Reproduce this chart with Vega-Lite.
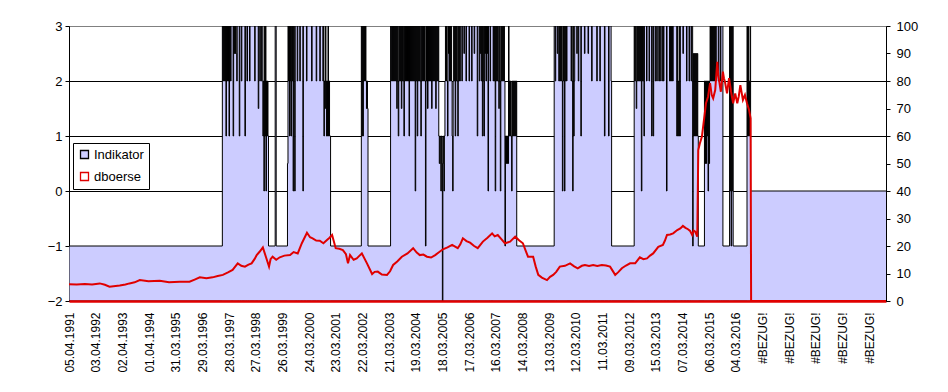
{
  "$schema": "https://vega.github.io/schema/vega-lite/v6.json",
  "width": 817,
  "height": 275,
  "autosize": {"type": "none"},
  "padding": {"left": 69, "top": 26, "right": 62, "bottom": 91},
  "background": "white",
  "config": {
    "view": {"stroke": "#808080", "strokeWidth": 1},
    "axis": {"labelFont": "Liberation Sans", "labelColor": "black", "domainColor": "black", "tickColor": "black"},
    "axisX": {"labelOverlap": false, "labelSeparation": 0},
    "legend": {"symbolType": "square"}
  },
  "datasets": {
    "ind": [
      {"i":0,"v":-1},
      {"i":299,"v":3},{"i":300,"v":2},{"i":301,"v":3},{"i":302,"v":2},{"i":303,"v":3},{"i":304,"v":2},{"i":305,"v":3},{"i":306,"v":1},{"i":307,"v":3},{"i":308,"v":2},{"i":309,"v":3},{"i":310,"v":2},{"i":311,"v":3},{"i":312,"v":1},{"i":313,"v":3},{"i":315,"v":2},{"i":316,"v":3},{"i":320,"v":1},{"i":321,"v":3},{"i":322,"v":2.5},{"i":323,"v":3},{"i":324,"v":2.5},{"i":325,"v":3},{"i":326,"v":2.5},{"i":327,"v":2},{"i":328,"v":3},{"i":332,"v":1},{"i":333,"v":3},{"i":336,"v":2},{"i":337,"v":3},{"i":343,"v":1},{"i":344,"v":3},{"i":347,"v":2},{"i":348,"v":3},{"i":352,"v":2},{"i":353,"v":3},{"i":362,"v":2},{"i":363,"v":3},{"i":369,"v":1.5},{"i":370,"v":3},{"i":372,"v":2},{"i":373,"v":3},{"i":375,"v":2},{"i":376,"v":3},{"i":378,"v":1},{"i":379,"v":2},{"i":380,"v":0},{"i":381,"v":3},{"i":382,"v":1},{"i":383,"v":3},{"i":384,"v":0},{"i":385,"v":2},{"i":386,"v":1},{"i":387,"v":2},{"i":388,"v":1},{"i":389,"v":-1},
      {"i":402,"v":3},{"i":404,"v":-1},
      {"i":426,"v":0.5},{"i":427,"v":3},{"i":428,"v":2},{"i":429,"v":3},{"i":430,"v":1},{"i":431,"v":3},{"i":432,"v":2},{"i":433,"v":1},{"i":434,"v":3},{"i":435,"v":2},{"i":436,"v":3},{"i":437,"v":0},{"i":438,"v":3},{"i":440,"v":0},{"i":441,"v":3},{"i":445,"v":2},{"i":446,"v":3},{"i":450,"v":2},{"i":451,"v":3},{"i":456,"v":0},{"i":457,"v":3},{"i":463,"v":2},{"i":464,"v":3},{"i":473,"v":2},{"i":474,"v":3},{"i":482,"v":2},{"i":483,"v":3},{"i":489,"v":2},{"i":490,"v":3},{"i":495,"v":2},{"i":496,"v":3},{"i":497,"v":1},{"i":498,"v":2},{"i":499,"v":1.5},{"i":500,"v":3},{"i":501,"v":2},{"i":502,"v":1},{"i":503,"v":2},{"i":504,"v":1},{"i":505,"v":3},{"i":506,"v":1},{"i":507,"v":2},{"i":508,"v":1},{"i":510,"v":-1},
      {"i":570,"v":3},{"i":571,"v":1},{"i":572,"v":3},{"i":573,"v":1},{"i":574,"v":3},{"i":575,"v":2},{"i":576,"v":3},{"i":577,"v":2},{"i":578,"v":3},{"i":579,"v":2},{"i":580,"v":1.5},{"i":581,"v":2},{"i":582,"v":1.5},{"i":583,"v":-1},
      {"i":627,"v":3},{"i":629,"v":2},{"i":630,"v":3},{"i":631,"v":2},{"i":632,"v":3},{"i":633,"v":2},{"i":634,"v":3},{"i":635,"v":2},{"i":636,"v":3},{"i":637,"v":2},{"i":638,"v":3},{"i":639,"v":1.5},{"i":640,"v":3},{"i":641,"v":2},{"i":642,"v":1},{"i":643,"v":3},{"i":644,"v":2},{"i":645,"v":3},{"i":646,"v":2},{"i":647,"v":3},{"i":648,"v":1.5},{"i":649,"v":3},{"i":650,"v":2},{"i":651,"v":3},{"i":652,"v":2},{"i":653,"v":1},{"i":654,"v":3},{"i":655,"v":2},{"i":656,"v":3},{"i":657,"v":2},{"i":658,"v":3},{"i":659,"v":2},{"i":660,"v":3},{"i":661,"v":2},{"i":662,"v":3},{"i":663,"v":1},{"i":664,"v":3},{"i":665,"v":2},{"i":666,"v":3},{"i":667,"v":2},{"i":668,"v":3},{"i":669,"v":2},{"i":670,"v":3},{"i":671,"v":2},{"i":672,"v":3},{"i":673,"v":2},{"i":674,"v":3},{"i":675,"v":0},{"i":676,"v":3},{"i":677,"v":2},{"i":678,"v":3},{"i":679,"v":1},{"i":680,"v":3},{"i":681,"v":2},{"i":682,"v":3},{"i":683,"v":2},{"i":684,"v":3},{"i":685,"v":2},{"i":686,"v":1},{"i":687,"v":3},{"i":688,"v":2},{"i":689,"v":3},{"i":690,"v":2},{"i":691,"v":3},{"i":692,"v":2},{"i":693,"v":3},{"i":694,"v":2},{"i":695,"v":-1},{"i":696,"v":3},{"i":697,"v":2},{"i":698,"v":3},{"i":699,"v":1.5},{"i":700,"v":3},{"i":701,"v":2},{"i":702,"v":3},{"i":703,"v":2},{"i":704,"v":3},{"i":705,"v":2},{"i":706,"v":3},{"i":707,"v":1.5},{"i":708,"v":3},{"i":709,"v":2},{"i":710,"v":3},{"i":711,"v":2},{"i":712,"v":3},{"i":713,"v":2},{"i":714,"v":3},{"i":715,"v":1.5},{"i":716,"v":3},{"i":717,"v":2},{"i":718,"v":3},{"i":719,"v":2},{"i":720,"v":3},{"i":721,"v":1},{"i":722,"v":0.5},{"i":723,"v":1},{"i":724,"v":0.5},{"i":725,"v":0},{"i":726,"v":1},{"i":727,"v":0.5},{"i":728,"v":-2},{"i":729,"v":1},{"i":730,"v":0.5},{"i":731,"v":0},{"i":732,"v":1},{"i":733,"v":2},{"i":734,"v":3},{"i":735,"v":2},{"i":736,"v":3},{"i":737,"v":2},{"i":738,"v":1},{"i":739,"v":3},{"i":740,"v":2.5},{"i":741,"v":3},{"i":742,"v":2},{"i":743,"v":3},{"i":744,"v":2},{"i":745,"v":3},{"i":746,"v":2},{"i":747,"v":1},{"i":748,"v":0},{"i":749,"v":2},{"i":750,"v":3},{"i":751,"v":2},{"i":752,"v":3},{"i":753,"v":1},{"i":754,"v":3},{"i":755,"v":2},{"i":756,"v":3},{"i":757,"v":2},{"i":758,"v":1},{"i":759,"v":3},{"i":760,"v":2},{"i":761,"v":3},{"i":762,"v":2},{"i":763,"v":3},{"i":766,"v":2},{"i":767,"v":3},{"i":770,"v":2.5},{"i":771,"v":3},{"i":774,"v":2},{"i":775,"v":3},{"i":780,"v":2},{"i":781,"v":3},{"i":785,"v":2},{"i":786,"v":3},{"i":790,"v":2.5},{"i":791,"v":3},{"i":796,"v":1},{"i":797,"v":3},{"i":800,"v":2},{"i":801,"v":3},{"i":802,"v":2.5},{"i":803,"v":3},{"i":804,"v":2},{"i":805,"v":3},{"i":806,"v":1},{"i":807,"v":3},{"i":808,"v":2},{"i":809,"v":1},{"i":810,"v":3},{"i":811,"v":2.5},{"i":812,"v":3},{"i":813,"v":2},{"i":814,"v":3},{"i":815,"v":2.5},{"i":816,"v":3},{"i":817,"v":0},{"i":818,"v":3},{"i":821,"v":2},{"i":822,"v":3},{"i":827,"v":2},{"i":828,"v":3},{"i":829,"v":2},{"i":830,"v":3},{"i":831,"v":0},{"i":832,"v":3},{"i":833,"v":2},{"i":834,"v":3},{"i":835,"v":2},{"i":836,"v":3},{"i":837,"v":2},{"i":838,"v":1.5},{"i":839,"v":3},{"i":840,"v":2},{"i":841,"v":0},{"i":842,"v":3},{"i":843,"v":2},{"i":844,"v":3},{"i":845,"v":2},{"i":846,"v":3},{"i":847,"v":2},{"i":848,"v":3},{"i":849,"v":2},{"i":850,"v":-1},{"i":851,"v":1},{"i":852,"v":0.5},{"i":853,"v":1},{"i":854,"v":0.5},{"i":855,"v":1},{"i":856,"v":0.5},{"i":857,"v":3},{"i":858,"v":1},{"i":859,"v":2},{"i":860,"v":1},{"i":861,"v":2},{"i":862,"v":1},{"i":863,"v":0},{"i":864,"v":2},{"i":865,"v":1},{"i":866,"v":2},{"i":867,"v":1},{"i":868,"v":2},{"i":869,"v":1},{"i":870,"v":2},{"i":871,"v":1},{"i":872,"v":2},{"i":873,"v":-1},
      {"i":946,"v":3},{"i":948,"v":2},{"i":949,"v":3},{"i":952,"v":2.5},{"i":953,"v":3},{"i":955,"v":2},{"i":956,"v":3},{"i":957,"v":2},{"i":958,"v":3},{"i":959,"v":2},{"i":960,"v":3},{"i":961,"v":2},{"i":962,"v":0},{"i":963,"v":3},{"i":964,"v":2},{"i":965,"v":3},{"i":966,"v":0},{"i":967,"v":2},{"i":968,"v":3},{"i":970,"v":2},{"i":971,"v":3},{"i":979,"v":2},{"i":980,"v":3},{"i":981,"v":2},{"i":982,"v":0},{"i":983,"v":3},{"i":984,"v":1},{"i":985,"v":2},{"i":986,"v":3},{"i":990,"v":2.5},{"i":991,"v":3},{"i":993,"v":2},{"i":994,"v":3},{"i":998,"v":1},{"i":999,"v":3},{"i":1005,"v":2.5},{"i":1006,"v":3},{"i":1012,"v":2.5},{"i":1013,"v":3},{"i":1019,"v":2},{"i":1020,"v":3},{"i":1029,"v":2},{"i":1030,"v":3},{"i":1035,"v":2},{"i":1036,"v":3},{"i":1044,"v":1},{"i":1045,"v":3},{"i":1052,"v":1},{"i":1053,"v":3},{"i":1057,"v":2},{"i":1058,"v":-1},
      {"i":1102,"v":3},{"i":1103,"v":2},{"i":1104,"v":3},{"i":1105,"v":2},{"i":1106,"v":1.5},{"i":1107,"v":3},{"i":1108,"v":2},{"i":1109,"v":3},{"i":1110,"v":2},{"i":1111,"v":3},{"i":1112,"v":2},{"i":1113,"v":3},{"i":1114,"v":2},{"i":1115,"v":3},{"i":1116,"v":0},{"i":1117,"v":3},{"i":1118,"v":2},{"i":1119,"v":3},{"i":1120,"v":2},{"i":1121,"v":1},{"i":1122,"v":3},{"i":1126,"v":2},{"i":1127,"v":3},{"i":1131,"v":2},{"i":1132,"v":3},{"i":1136,"v":1},{"i":1137,"v":3},{"i":1139,"v":1},{"i":1140,"v":3},{"i":1143,"v":2},{"i":1144,"v":3},{"i":1146,"v":2},{"i":1147,"v":3},{"i":1150,"v":2},{"i":1151,"v":3},{"i":1152,"v":2},{"i":1153,"v":3},{"i":1156,"v":2},{"i":1157,"v":3},{"i":1159,"v":2},{"i":1160,"v":3},{"i":1165,"v":0},{"i":1166,"v":3},{"i":1171,"v":2},{"i":1172,"v":3},{"i":1173,"v":2},{"i":1174,"v":3},{"i":1175,"v":2},{"i":1176,"v":3},{"i":1177,"v":2},{"i":1178,"v":3},{"i":1185,"v":1},{"i":1186,"v":3},{"i":1187,"v":1},{"i":1188,"v":2},{"i":1189,"v":1},{"i":1190,"v":3},{"i":1191,"v":1},{"i":1192,"v":3},{"i":1197,"v":2.5},{"i":1198,"v":3},{"i":1204,"v":2},{"i":1205,"v":3},{"i":1209,"v":2},{"i":1210,"v":3},{"i":1213,"v":2},{"i":1214,"v":3},{"i":1216,"v":-1},{"i":1217,"v":2.5},{"i":1218,"v":1},{"i":1219,"v":2.5},{"i":1220,"v":1},{"i":1221,"v":2.5},{"i":1222,"v":1},{"i":1223,"v":2.5},{"i":1224,"v":1},{"i":1225,"v":2.5},{"i":1226,"v":1},{"i":1227,"v":-1},
      {"i":1239,"v":2},{"i":1240,"v":0.5},{"i":1241,"v":2},{"i":1242,"v":0.5},{"i":1243,"v":2},{"i":1244,"v":1},{"i":1245,"v":2},{"i":1246,"v":0},{"i":1247,"v":2},{"i":1248,"v":0.5},{"i":1249,"v":2},{"i":1250,"v":3},{"i":1251,"v":2},{"i":1252,"v":3},{"i":1253,"v":2},{"i":1254,"v":3},{"i":1255,"v":2},{"i":1256,"v":3},{"i":1257,"v":2},{"i":1258,"v":3},{"i":1259,"v":2},{"i":1260,"v":3},{"i":1261,"v":2},{"i":1262,"v":3},{"i":1266,"v":2},{"i":1267,"v":3},{"i":1270,"v":2},{"i":1271,"v":3},{"i":1275,"v":-1},
      {"i":1288,"v":3},{"i":1289,"v":0},{"i":1290,"v":3},{"i":1291,"v":-1},{"i":1292,"v":3},{"i":1293,"v":0},{"i":1294,"v":3},{"i":1295,"v":-1},
      {"i":1322,"v":3},{"i":1323,"v":1},{"i":1324,"v":3},{"i":1325,"v":1},{"i":1326,"v":2},{"i":1327,"v":1},{"i":1328,"v":3},{"i":1329,"v":0},
      {"i":1594,"v":0}
    ],
    "dbo": [
      {"i":0,"p":6.1},{"i":15,"p":6.0},{"i":31,"p":6.2},{"i":45,"p":6.0},{"i":60,"p":6.4},{"i":70,"p":5.9},{"i":79,"p":5.2},{"i":99,"p":5.6},{"i":110,"p":6.0},{"i":118,"p":6.4},{"i":128,"p":6.8},{"i":138,"p":7.6},{"i":155,"p":7.2},{"i":177,"p":7.4},{"i":195,"p":6.8},{"i":216,"p":7.0},{"i":235,"p":7.0},{"i":245,"p":7.8},{"i":255,"p":8.6},{"i":268,"p":8.3},{"i":280,"p":8.6},{"i":290,"p":9.1},{"i":300,"p":9.5},{"i":310,"p":10.4},{"i":319,"p":11.3},{"i":329,"p":13.7},{"i":336,"p":12.8},{"i":343,"p":12.5},{"i":350,"p":13.2},{"i":356,"p":13.7},{"i":362,"p":15.3},{"i":366,"p":16.7},{"i":372,"p":18.0},{"i":378,"p":19.5},{"i":384,"p":16.0},{"i":390,"p":12.5},{"i":393,"p":15.2},{"i":397,"p":16.1},{"i":404,"p":15.0},{"i":411,"p":15.9},{"i":420,"p":16.5},{"i":431,"p":16.7},{"i":438,"p":17.8},{"i":446,"p":17.3},{"i":454,"p":21.0},{"i":464,"p":24.8},{"i":470,"p":23.2},{"i":475,"p":22.8},{"i":482,"p":22.0},{"i":489,"p":21.9},{"i":496,"p":21.0},{"i":503,"p":22.2},{"i":508,"p":23.0},{"i":513,"p":24.0},{"i":520,"p":19.2},{"i":527,"p":19.0},{"i":534,"p":18.5},{"i":540,"p":17.0},{"i":544,"p":13.7},{"i":548,"p":16.7},{"i":555,"p":15.0},{"i":561,"p":15.5},{"i":566,"p":16.4},{"i":571,"p":17.3},{"i":581,"p":13.7},{"i":591,"p":9.8},{"i":596,"p":10.6},{"i":602,"p":10.7},{"i":610,"p":9.6},{"i":620,"p":9.5},{"i":626,"p":10.8},{"i":632,"p":13.1},{"i":640,"p":14.4},{"i":649,"p":16.1},{"i":660,"p":17.3},{"i":671,"p":19.2},{"i":678,"p":17.6},{"i":684,"p":16.7},{"i":691,"p":16.9},{"i":698,"p":16.1},{"i":706,"p":15.8},{"i":714,"p":16.7},{"i":722,"p":17.8},{"i":729,"p":18.8},{"i":738,"p":19.5},{"i":747,"p":20.4},{"i":758,"p":19.2},{"i":763,"p":20.6},{"i":768,"p":22.8},{"i":775,"p":21.8},{"i":782,"p":21.2},{"i":790,"p":20.0},{"i":797,"p":19.2},{"i":807,"p":21.6},{"i":816,"p":23.0},{"i":825,"p":24.6},{"i":830,"p":23.5},{"i":836,"p":24.0},{"i":843,"p":22.5},{"i":850,"p":21.0},{"i":860,"p":21.6},{"i":870,"p":23.4},{"i":878,"p":22.0},{"i":885,"p":21.0},{"i":890,"p":18.5},{"i":895,"p":16.1},{"i":905,"p":16.1},{"i":910,"p":12.5},{"i":915,"p":9.5},{"i":922,"p":8.5},{"i":932,"p":7.6},{"i":938,"p":8.8},{"i":944,"p":9.5},{"i":950,"p":10.6},{"i":957,"p":12.5},{"i":967,"p":12.8},{"i":977,"p":13.7},{"i":985,"p":12.6},{"i":992,"p":11.9},{"i":1000,"p":12.8},{"i":1006,"p":13.1},{"i":1014,"p":12.7},{"i":1022,"p":13.1},{"i":1030,"p":12.7},{"i":1039,"p":13.1},{"i":1047,"p":12.9},{"i":1055,"p":12.5},{"i":1065,"p":9.5},{"i":1071,"p":10.5},{"i":1078,"p":11.9},{"i":1086,"p":12.9},{"i":1094,"p":13.7},{"i":1104,"p":13.7},{"i":1113,"p":15.9},{"i":1120,"p":15.2},{"i":1127,"p":15.5},{"i":1133,"p":16.5},{"i":1139,"p":17.3},{"i":1149,"p":19.7},{"i":1158,"p":20.4},{"i":1162,"p":22.0},{"i":1166,"p":24.0},{"i":1172,"p":24.2},{"i":1178,"p":24.6},{"i":1186,"p":25.8},{"i":1192,"p":26.4},{"i":1197,"p":27.3},{"i":1202,"p":26.6},{"i":1207,"p":26.1},{"i":1211,"p":25.5},{"i":1215,"p":24.0},{"i":1218,"p":25.6},{"i":1221,"p":25.2},{"i":1225,"p":23.4},{"i":1227,"p":54.9},{"i":1230,"p":57.3},{"i":1234,"p":59.7},{"i":1238,"p":65.8},{"i":1242,"p":71.9},{"i":1246,"p":74.3},{"i":1250,"p":79.2},{"i":1253,"p":75.0},{"i":1256,"p":73.7},{"i":1260,"p":76.7},{"i":1264,"p":87.0},{"i":1266,"p":82.0},{"i":1268,"p":79.7},{"i":1271,"p":76.1},{"i":1275,"p":83.4},{"i":1277,"p":81.0},{"i":1279,"p":79.7},{"i":1283,"p":75.5},{"i":1287,"p":81.0},{"i":1291,"p":76.0},{"i":1295,"p":71.9},{"i":1299,"p":75.5},{"i":1303,"p":71.9},{"i":1306,"p":74.5},{"i":1309,"p":78.5},{"i":1314,"p":73.1},{"i":1318,"p":74.9},{"i":1322,"p":71.9},{"i":1326,"p":69.5},{"i":1329,"p":66.4},{"i":1330,"p":0},{"i":1594,"p":0}
    ]
  },
  "encoding": {
    "x": {
      "field": "i", "type": "quantitative",
      "scale": {"domain": [0, 1593], "nice": false, "zero": false},
      "axis": {
        "title": null,
        "values": [0,52,104,156,208,260,312,364,416,468,520,572,624,676,728,780,832,884,936,988,1040,1092,1144,1196,1248,1300,1352,1404,1456,1508,1560],
        "labelExpr": "['05.04.1991','03.04.1992','02.04.1993','01.04.1994','31.03.1995','29.03.1996','28.03.1997','27.03.1998','26.03.1999','24.03.2000','23.03.2001','22.03.2002','21.03.2003','19.03.2004','18.03.2005','17.03.2006','16.03.2007','14.03.2008','13.03.2009','12.03.2010','11.03.2011','09.03.2012','15.03.2013','07.03.2014','06.03.2015','04.03.2016','#BEZUG!','#BEZUG!','#BEZUG!','#BEZUG!','#BEZUG!'][round(datum.value/52)]",
        "labelAngle": -90, "ticks": false, "grid": false, "labelPadding": 11,
        "labelFontSize": 12, "labelOverlap": false, "labelSeparation": 0, "labelBound": false, "labelFlush": false,
        "domainColor": "#E00000", "domainWidth": 2.5, "zindex": 1
      }
    }
  },
  "layer": [
    {
      "data": {"name": "ind"},
      "mark": {"type": "area", "interpolate": "step-after", "strokeWidth": 1, "fillOpacity": 1, "clip": true},
      "encoding": {
        "y": {
          "field": "v", "type": "quantitative",
          "scale": {"domain": [-2, 3], "nice": false, "zero": false},
          "axis": {
            "orient": "left", "title": null, "values": [-2,-1,0,1,2,3],
            "grid": true,
            "gridColor": {"condition": {"test": "datum.value == 3", "value": "#808080"}, "value": "#000000"},
            "tickSize": 4, "labelPadding": 3, "labelFontSize": 13
          }
        },
        "y2": {"datum": -2},
        "fill": {
          "datum": "Indikator", "type": "nominal",
          "scale": {"domain": ["Indikator", "dboerse"], "range": ["#CCCCFF", "#FFFFFF"]},
          "legend": {"title": null, "orient": "none", "legendX": 4, "legendY": 117, "symbolType": "square", "symbolSize": 64, "symbolStrokeWidth": 1.3, "labelFontSize": 13, "labelFont": "Liberation Sans", "fillColor": "white", "strokeColor": "black", "padding": 5, "rowPadding": 7, "labelOffset": 3}
        },
        "stroke": {
          "datum": "Indikator", "type": "nominal",
          "scale": {"domain": ["Indikator", "dboerse"], "range": ["#000000", "#E00000"]},
          "legend": {"title": null, "orient": "none", "legendX": 4, "legendY": 117, "symbolType": "square", "symbolSize": 64, "symbolStrokeWidth": 1.3, "labelFontSize": 13, "labelFont": "Liberation Sans", "fillColor": "white", "strokeColor": "black", "padding": 5, "rowPadding": 7, "labelOffset": 3}
        }
      }
    },
    {
      "data": {"name": "dbo"},
      "mark": {"type": "line", "strokeWidth": 2, "interpolate": "linear", "clip": true},
      "encoding": {
        "y": {
          "field": "p", "type": "quantitative",
          "scale": {"domain": [0, 100], "nice": false},
          "axis": {"orient": "right", "title": null, "values": [0,10,20,30,40,50,60,70,80,90,100], "grid": false, "tickSize": 4, "labelPadding": 6, "labelFontSize": 13, "zindex": 1}
        },
        "stroke": {"datum": "dboerse", "type": "nominal"}
      }
    }
  ],
  "resolve": {"scale": {"y": "independent"}, "axis": {"y": "independent"}}
}
